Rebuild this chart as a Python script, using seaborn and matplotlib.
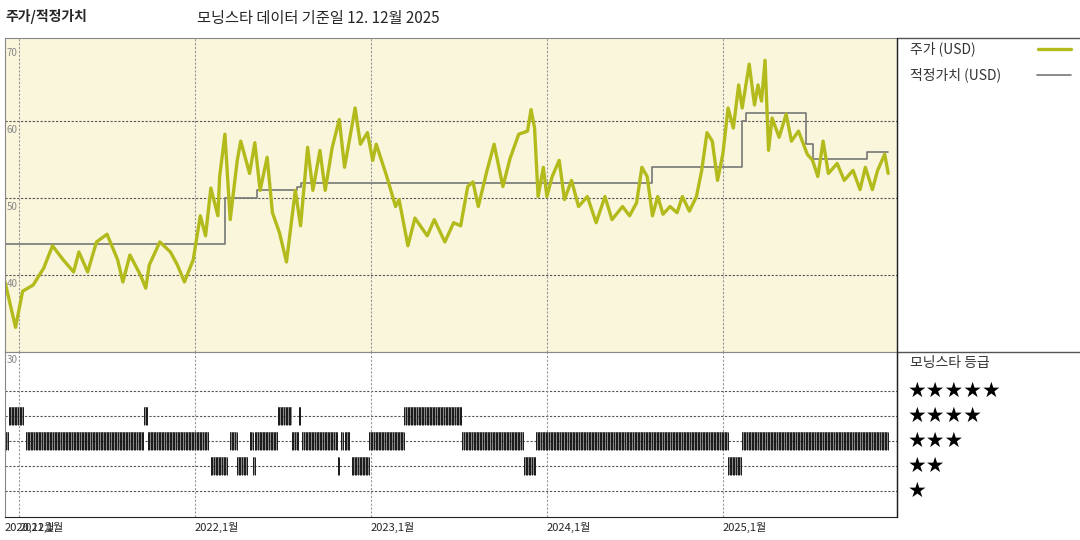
import numpy as np
import pandas as pd
import matplotlib
matplotlib.use("Agg")
import matplotlib.pyplot as plt
from matplotlib.lines import Line2D
import seaborn as sns

# price readings (decimal year, USD)
price_t = [2020.92, 2020.98, 2021.02, 2021.08, 2021.14, 2021.19, 2021.25, 2021.31, 2021.34, 2021.39,
           2021.44, 2021.50, 2021.56, 2021.59, 2021.63, 2021.69, 2021.72, 2021.74, 2021.80, 2021.86,
           2021.90, 2021.94, 2021.99, 2022.03, 2022.06, 2022.09, 2022.13, 2022.14, 2022.17, 2022.20,
           2022.24, 2022.26, 2022.31, 2022.34, 2022.37, 2022.41, 2022.44, 2022.48, 2022.52, 2022.57,
           2022.60, 2022.64, 2022.67, 2022.71, 2022.74, 2022.78, 2022.82, 2022.85, 2022.91, 2022.94,
           2022.98, 2023.01, 2023.03, 2023.09, 2023.14, 2023.16, 2023.21, 2023.25, 2023.32, 2023.36,
           2023.42, 2023.47, 2023.51, 2023.55, 2023.58, 2023.61, 2023.66, 2023.70, 2023.75, 2023.79,
           2023.84, 2023.89, 2023.91, 2023.93, 2023.95, 2023.98, 2024.00, 2024.03, 2024.07, 2024.10,
           2024.14, 2024.18, 2024.23, 2024.28, 2024.33, 2024.37, 2024.43, 2024.47, 2024.51, 2024.54,
           2024.57, 2024.60, 2024.63, 2024.66, 2024.70, 2024.74, 2024.77, 2024.81, 2024.85, 2024.88,
           2024.91, 2024.94, 2024.97, 2025.00, 2025.03, 2025.06, 2025.09, 2025.11, 2025.15, 2025.18,
           2025.20, 2025.22, 2025.24, 2025.26, 2025.28, 2025.32, 2025.36, 2025.39, 2025.43, 2025.48,
           2025.51, 2025.54, 2025.57, 2025.60, 2025.65, 2025.69, 2025.74, 2025.78, 2025.81, 2025.85,
           2025.88, 2025.92, 2025.94]
price = [39.1, 33.2, 37.9, 38.7, 40.9, 43.8, 42.0, 40.4, 43.0, 40.4,
         44.3, 45.3, 42.0, 39.1, 42.6, 40.0, 38.3, 41.3, 44.3, 43.0,
         41.3, 39.1, 42.0, 47.7, 45.1, 51.3, 47.7, 52.8, 58.3, 47.2,
         54.9, 57.4, 53.2, 57.2, 51.0, 55.3, 48.1, 45.5, 41.7, 51.0,
         46.4, 56.6, 51.0, 56.2, 51.0, 56.6, 60.2, 54.0, 61.7, 57.0,
         58.5, 54.9, 57.0, 52.8, 48.9, 49.8, 43.8, 47.4, 45.1, 47.2,
         44.3, 46.8, 46.4, 51.5, 52.1, 48.9, 53.6, 57.0, 51.5, 55.1,
         58.3, 58.7, 61.5, 59.1, 50.2, 54.0, 50.2, 52.8, 54.9, 49.8,
         52.3, 48.9, 50.2, 46.8, 50.2, 47.2, 48.9, 47.7, 49.4, 54.0,
         52.8, 47.7, 50.2, 47.9, 48.9, 48.1, 50.2, 48.3, 50.2, 53.6,
         58.5, 57.4, 52.3, 55.7, 61.7, 59.1, 64.7, 61.7, 67.4, 62.1,
         64.7, 62.6, 67.9, 56.2, 60.4, 57.9, 60.9, 57.4, 58.7, 55.7,
         54.9, 52.8, 57.4, 53.2, 54.5, 52.3, 53.6, 51.1, 54.0, 51.1,
         53.6, 55.7, 53.2]

# fair value steps
fair_t = [2020.92, 2022.17, 2022.35, 2022.58, 2022.60, 2024.60, 2025.11, 2025.13, 2025.47, 2025.51, 2025.82, 2025.94]
fair = [44.0, 50.0, 51.1, 51.4, 52.0, 54.0, 60.0, 61.0, 57.0, 55.1, 56.0, 56.0]

# star rating periods: (start, end, stars)
rating_start = [2020.91, 2020.94, 2021.04, 2021.71, 2021.73, 2022.09, 2022.20, 2022.24, 2022.31, 2022.33,
                2022.34, 2022.47, 2022.55, 2022.59, 2022.61, 2022.81, 2022.83, 2022.85, 2022.89, 2022.99,
                2023.19, 2023.52, 2023.87, 2023.94, 2025.03, 2025.11]
rating_end = [2020.94, 2021.03, 2021.71, 2021.73, 2022.08, 2022.18, 2022.24, 2022.30, 2022.33, 2022.34,
              2022.47, 2022.55, 2022.59, 2022.60, 2022.81, 2022.82, 2022.84, 2022.88, 2022.99, 2023.19,
              2023.52, 2023.87, 2023.94, 2025.03, 2025.11, 2025.94]
rating_stars = [3, 4, 3, 4, 3, 2, 3, 2, 3, 2,
                3, 4, 3, 4, 3, 2, 3, 3, 2, 3,
                4, 3, 2, 3, 2, 3]

year_ticks = [2021.0, 2022.0, 2023.0, 2024.0, 2025.0]
year_labels = ["2021,1월", "2022,1월", "2023,1월", "2024,1월", "2025,1월"]

sns.set_theme(style="white")
plt.rcParams['font.family'] = ['Noto Sans CJK KR', 'DejaVu Sans']

W, H = 1080, 540
fig = plt.figure(figsize=(10.8, 5.4), dpi=100)
fx = lambda px: px / W
fy = lambda py: 1 - py / H
x0, x1 = 5, 897
ax = fig.add_axes([fx(x0), fy(352), fx(x1 - x0), fy(38) - fy(352)])
ax2 = fig.add_axes([fx(x0), fy(517), fx(x1 - x0), fy(352) - fy(517)])
xmin, xmax = 2020.92, 2025.99

grid_kw = dict(color="#999999", lw=0.8, ls=(0, (2, 1.5)))

# price panel
ax.set_facecolor("#faf6dc")
ax.set_xlim(xmin, xmax)
ax.set_ylim(30, 70.8)
for v in [40, 50, 60]:
    ax.axhline(v, color="#555555", lw=0.8, ls=(0, (2, 1.5)))
for t in year_ticks:
    ax.axvline(t, **grid_kw)
for v in [40, 50, 60, 70]:
    ax.text(xmin + 0.01, v - 0.5, str(v), color="#888888", fontsize=7, va="top", ha="left")
sns.lineplot(x=fair_t, y=fair, drawstyle="steps-post", color="#777777", lw=1.2, ax=ax, sort=False)
sns.lineplot(x=price_t, y=price, color="#b3bb1c", lw=2.4, ax=ax, sort=False)
ax.set_xticks([])
ax.set_yticks([])
ax.set_xlabel("")
ax.set_ylabel("")

# rating panel
ax2.set_facecolor("white")
ax2.set_xlim(xmin, xmax)
ax2.set_ylim(-0.04, 6.56)
for v in [1, 2, 3, 4, 5]:
    ax2.axhline(v, color="#555555", lw=0.8, ls=(0, (2, 1.5)))
for t in year_ticks:
    ax2.axvline(t, **grid_kw)
ax2.text(xmin + 0.01, 6.45, "30", color="#888888", fontsize=7, va="top", ha="left")
for s, e, r in zip(rating_start, rating_end, rating_stars):
    ax2.fill_between([s, e], r - 0.36, r + 0.36, color="#8a8a8a", lw=0)
    xs = np.arange(s, e, 0.009)
    ax2.vlines(xs, r - 0.36, r + 0.36, color="#1a1a1a", lw=0.7)
ax2.set_xticks([])
ax2.set_yticks([])

for a in (ax, ax2):
    for sp in a.spines.values():
        sp.set_color("#888888")
        sp.set_linewidth(0.8)
ax2.spines["bottom"].set_color("#222222")
ax2.spines["right"].set_color("#222222")

# x labels
ax2.text(xmin, -0.25, "2020,12월", fontsize=8, va="top", ha="left")
for t, lab in zip(year_ticks, year_labels):
    ax2.text(t, -0.25, lab, fontsize=8, va="top", ha="left")

# frame lines to the right side
for py in (38, 352):
    fig.add_artist(Line2D([fx(x1), 1], [fy(py), fy(py)], color="#555555", lw=1))
fig.add_artist(Line2D([fx(x1), fx(x1)], [fy(38), fy(517)], color="#222222", lw=1))

# titles
fig.text(fx(5), fy(17), "주가/적정가치", fontsize=10, fontweight="bold", va="center")
fig.text(fx(197), fy(19), "모닝스타 데이터 기준일 12. 12월 2025", fontsize=11, va="center")

# legend
fig.text(fx(910), fy(49), "주가 (USD)", fontsize=10, va="center", color="#333333")
fig.add_artist(Line2D([fx(1038), fx(1071)], [fy(49), fy(49)], color="#b3bb1c", lw=2.4))
fig.text(fx(910), fy(75), "적정가치 (USD)", fontsize=10, va="center", color="#333333")
fig.add_artist(Line2D([fx(1037), fx(1071)], [fy(75), fy(75)], color="#777777", lw=1.2))
fig.text(fx(910), fy(363), "모닝스타 등급", fontsize=10, va="center", color="#333333")
for i, n in enumerate([5, 4, 3, 2, 1]):
    fig.text(fx(908), fy(391 + 25 * i), "★" * n, fontsize=15, va="center",
             family=['DejaVu Sans'], color="black")

fig.savefig("out.png", dpi=100)
